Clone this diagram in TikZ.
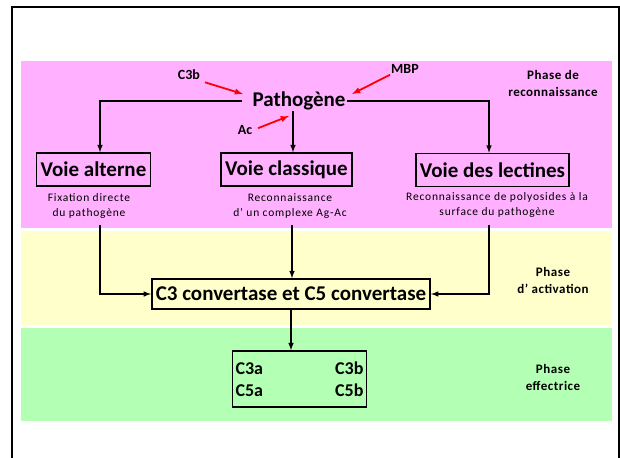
\documentclass[tikz,border=0pt]{standalone}
\usepackage{fontspec}
\setmainfont{Carlito}
\newfontfamily\notefont[LetterSpace=7]{Carlito}
\newfontfamily\phasefont[LetterSpace=4]{Carlito}
\usepackage{tikz}
\usetikzlibrary{calc}

\definecolor{rose}{RGB}{255,176,255}
\definecolor{jaune}{RGB}{255,255,204}
\definecolor{vert}{RGB}{179,255,179}

\tikzset{
voie/.style={draw, line width=1.6pt, font=\bfseries\fontsize{21}{25}\selectfont, minimum height=33pt, inner xsep=4pt, inner ysep=2pt},
note/.style={align=center, font=\notefont\fontsize{11.5}{14.5}\selectfont},
phase/.style={align=center, font=\phasefont\bfseries\fontsize{13}{17}\selectfont},
petit/.style={font=\bfseries\fontsize{14}{16}\selectfont, inner sep=1pt},
fleche/.style={line width=1.5pt, -latex},
rouge/.style={red, line width=1.8pt, -latex},
}

\begin{document}
\begin{tikzpicture}[%
x=1pt, y=-1pt,
]
\useasboundingbox (0,0) rectangle (620,457);
\clip (0,0) rectangle (620,457);
%% frame;
\draw [line width=2.2pt] (12,7) rectangle (619,480);
%% bands;
\fill [rose] (21,61) rectangle (612,228);
\fill [jaune] (21,231) rectangle (612,325);
\fill [vert] (21,328) rectangle (612,421);
%% phases;
\node [phase] (ph1) at (553,83.5) {Phase de\\reconnaissance};
\node [phase] (ph2) at (553,280.5) {Phase\\d’ activation};
\node [phase] (ph3) at (553,377) {Phase\\effectrice};
%% pathogen;
\node [font=\bfseries\fontsize{21}{25}\selectfont, inner sep=1pt] (patho) at (299,101) {Pathogène};
%% pathways;
\node [voie] (alt) at (93.5,169.5) {Voie alterne};
\node [voie] (cla) at (286.5,169.5) {Voie classique};
\node [voie] (lec) at (492.5,170) {Voie des lectines};
\draw [fleche] ([xshift=-9pt]patho.west) -| ([xshift=6.5pt]alt.north);
\draw [fleche] (patho.east) -| ([xshift=-3.5pt]lec.north);
\draw [fleche] ([xshift=-6pt]patho.south) -- ([xshift=6.5pt]cla.north);
%% notes;
\node [note] (altnote) at (89,206) {Fixation directe\\du pathogène};
\node [note] (clanote) at (290,206) {Reconnaissance\\d’ un complexe Ag-Ac};
\node [note] (lecnote) at (497,205) {Reconnaissance de polyosides à la\\surface du pathogène};
%% red arrows;
\node [petit] (c3blab) at (189,75) {C3b};
\node [petit] (mbplab) at (405,69) {MBP};
\node [petit] (aclab) at (245,130) {Ac};
\coordinate (c3bhit) at (243,94);
\coordinate (mbphit) at (352,94);
\coordinate (achit) at (289,116);
\draw [rouge, shorten <=4pt] (c3blab.south east) -- (c3bhit);
\draw [rouge] (mbplab.south west) -- (mbphit);
\draw [rouge, shorten <=5pt] (aclab.east) -- (achit);
%% convertases;
\node [voie, minimum height=30pt] (conv) at (291,294) {C3 convertase et C5 convertase};
\coordinate (altout) at (100,225);
\coordinate (claout) at (292,225);
\coordinate (lecout) at (489,225);
\draw [fleche] (altout) |- (conv.west);
\draw [fleche] (claout) -- (claout |- conv.north);
\draw [fleche] (lecout) |- (conv.east);
%% products;
\node [draw, line width=1.6pt, text width=128pt, minimum height=56pt, inner sep=3pt, align=left,
  font=\bfseries\fontsize{18}{22}\selectfont] (res) at (299.5,379) {C3a\hfill C3b\\C5a\hfill C5b};
\draw [fleche] (conv.south) -- (conv.south |- res.north);
\end{tikzpicture}
\end{document}
